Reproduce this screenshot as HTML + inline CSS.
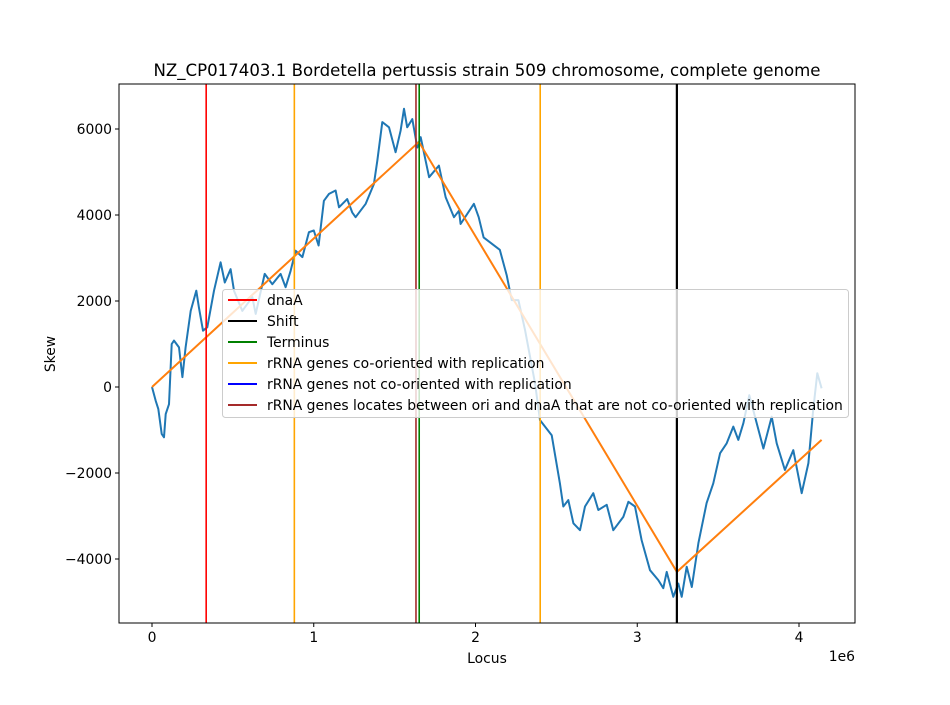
<!DOCTYPE html>
<html><head><meta charset="utf-8"><style>
body{margin:0;background:#fff}
svg text{font-family:"DejaVu Sans","Liberation Sans",sans-serif;fill:#000}
</style></head><body>
<svg id="c" width="950" height="700">
<text x="487" y="76" font-size="16.6" text-anchor="middle">NZ_CP017403.1 Bordetella pertussis strain 509 chromosome, complete genome</text>
<g id="plot"></g>
</svg>
<script>
const locus=[0,0.023,0.039,0.06,0.074,0.085,0.105,0.122,0.136,0.167,0.188,0.208,0.239,0.274,0.29,0.315,0.342,0.383,0.424,0.45,0.486,0.507,0.558,0.62,0.641,0.697,0.744,0.795,0.826,0.857,0.888,0.93,0.97,1.0,1.03,1.063,1.094,1.135,1.156,1.207,1.238,1.259,1.321,1.372,1.393,1.424,1.465,1.506,1.537,1.558,1.578,1.609,1.64,1.661,1.713,1.774,1.816,1.867,1.898,1.908,1.99,2.02,2.05,2.15,2.193,2.224,2.265,2.306,2.368,2.399,2.471,2.522,2.543,2.574,2.605,2.646,2.677,2.728,2.759,2.811,2.852,2.914,2.945,2.986,3.027,3.079,3.13,3.161,3.182,3.223,3.254,3.275,3.306,3.337,3.378,3.429,3.47,3.512,3.553,3.594,3.625,3.656,3.693,3.728,3.78,3.831,3.862,3.913,3.965,4.017,4.058,4.088,4.113,4.14];
const skew=[0,-320,-510,-1090,-1170,-630,-400,1000,1080,920,230,920,1770,2240,1850,1310,1390,2240,2900,2430,2740,2240,1770,2090,1700,2630,2390,2630,2320,2700,3170,3020,3600,3640,3290,4330,4490,4570,4180,4370,4060,3950,4260,4720,5260,6160,6040,5460,5960,6470,6040,6230,5570,5810,4880,5150,4410,3950,4100,3790,4260,3950,3480,3190,2600,2020,2020,1330,90,-770,-1120,-2240,-2780,-2630,-3170,-3330,-2780,-2470,-2860,-2740,-3330,-3020,-2670,-2780,-3560,-4260,-4490,-4680,-4300,-4880,-4570,-4880,-4180,-4650,-3630,-2700,-2240,-1540,-1310,-920,-1230,-840,-190,-690,-1430,-690,-1310,-1930,-1470,-2470,-1770,-530,320,-30];
const fitLocus=[0,1.65,3.245,4.14];
const fitSkew=[0,5700,-4300,-1230];
const xTicks=[0,1,2,3,4];
const yTicks=[-4000,-2000,0,2000,4000,6000];
const markers=[
 {name:"dnaA",pos:0.335,color:"red"},
 {name:"rrna-co-oriented",pos:0.88,color:"orange"},
 {name:"rrna-co-oriented",pos:2.40,color:"orange"},
 {name:"rrna-between-ori-dnaA",pos:1.632,color:"brown"},
 {name:"terminus",pos:1.652,color:"green"},
 {name:"shift",pos:3.245,color:"black"}];
const legendLabels=["dnaA","Shift","Terminus","rRNA genes co-oriented with replication","rRNA genes not co-oriented with replication","rRNA genes locates between ori and dnaA that are not co-oriented with replication"];
const legendColors=["red","black","green","orange","blue","brown"];

const L=119,R=855,T=84,B=623;
const X=v=>152+v*161.75;
const Y=v=>387-v*0.043;
const NS="http://www.w3.org/2000/svg";
const g=document.getElementById('plot');
function mk(t,a,p){const e=document.createElementNS(NS,t);for(const k in a)e.setAttribute(k,a[k]);(p||g).appendChild(e);return e;}

let d=locus.map((v,i)=>(i?'L':'M')+X(v).toFixed(1)+' '+Y(skew[i]).toFixed(1)).join('');
let e=mk('path',{d,fill:'none',stroke:'#1f77b4','stroke-width':2,'stroke-linejoin':'round'});


d=fitLocus.map((v,i)=>(i?'L':'M')+X(v).toFixed(1)+' '+Y(fitSkew[i]).toFixed(1)).join('');
e=mk('path',{d,fill:'none',stroke:'#ff7f0e','stroke-width':2});


markers.forEach(m=>{
 const ln=mk('line',{x1:X(m.pos),x2:X(m.pos),y1:T,y2:B,stroke:m.color,'stroke-width':m.color==='black'?2.2:1.6});
 
 
});
e=mk('rect',{x:L,y:T,width:R-L,height:B-T,fill:'none',stroke:'#000','stroke-width':1});


xTicks.forEach(t=>{
 mk('line',{x1:X(t),x2:X(t),y1:B,y2:B+4,stroke:'#000'});
 const tx=mk('text',{x:X(t),y:B+19,'font-size':13.9,'text-anchor':'middle'});tx.textContent=t;
 
 
});
yTicks.forEach(t=>{
 mk('line',{x1:L-4,x2:L,y1:Y(t),y2:Y(t),stroke:'#000'});
 const tx=mk('text',{x:L-7,y:Y(t)+5,'font-size':13.9,'text-anchor':'end'});tx.textContent=t<0?'\u2212'+(-t):t;
 
 
});
e=mk('text',{x:855,y:661,'font-size':13.9,'text-anchor':'end'});e.textContent='1e6';


e=mk('text',{x:487,y:663,'font-size':13.9,'text-anchor':'middle'});e.textContent='Locus';


e=mk('text',{x:55,y:354,'font-size':13.9,'text-anchor':'middle',transform:'rotate(-90 55 354)'});e.textContent='Skew';


const lg=mk('g',{});


mk('rect',{x:222.5,y:289.5,width:626,height:128,rx:3,fill:'rgba(255,255,255,0.8)',stroke:'#ccc'},lg);
legendLabels.forEach((s,i)=>{
 const y=300+i*21;
 mk('line',{x1:228,x2:257,y1:y,y2:y,stroke:legendColors[i],'stroke-width':2},lg);
 const tx=mk('text',{x:267,y:y+5,'font-size':13.9},lg);tx.textContent=s;
 
 
});
</script>
</body></html>
